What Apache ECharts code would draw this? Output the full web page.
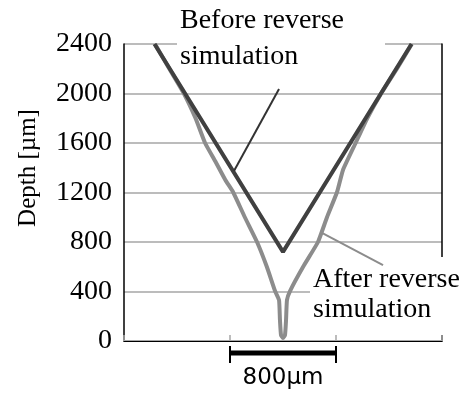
<!DOCTYPE html>
<html>
<head>
<meta charset="utf-8">
<script src="https://cdn.jsdelivr.net/npm/echarts@6/dist/echarts.min.js"></script>
<style>
  html, body { margin: 0; padding: 0; background: #fff; }
  #container { width: 473px; height: 394px; }
</style>
</head>
<body>
<div id="container"></div>
<script>
const container = document.getElementById('container');
const chartIns = echarts.init(container);

// axes
const xTicks = [0, 800, 1600, 2400];
const yTicks = [0, 400, 800, 1200, 1600, 2000, 2400];

// before reverse simulation (um)
const beforeX = [230, 1200, 2170];
const beforeY = [2400, 720, 2400];

// after reverse simulation (um)
const afterX = [234, 342, 450, 540, 612, 690, 765, 823, 912, 1004, 1078, 1140, 1170, 1177, 1185, 1200, 1215, 1223, 1230, 1253, 1352, 1464, 1532, 1608, 1653, 1748, 1836, 1943, 2060, 2172];
const afterY = [2400, 2200, 2004, 1800, 1600, 1450, 1301, 1204, 1000, 800, 600, 404, 331, 170, 48, 24, 48, 170, 331, 404, 600, 800, 1000, 1204, 1382, 1600, 1800, 2004, 2200, 2400];

// annotations (data coords)
const beforeCallout = [[1170, 2036], [830, 1374]];
const afterCallout = [[1494, 873], [1955, 614]];
const scaleBar = [800, 1600];
const scaleText = '800μm';

const serif = '"Liberation Serif", "Times New Roman", serif';

const toPairs = (xs, ys) => xs.map((x, i) => [x, ys[i]]);

const option = {
  animation: false,
  grid: { left: 124, right: 31, top: 44, bottom: 53 },
  xAxis: [
    {
      type: 'value', min: xTicks[0], max: xTicks[xTicks.length - 1], interval: 800,
      axisLine: { lineStyle: { color: '#a6a6a6', width: 2 } },
      axisTick: { inside: true, length: 6, lineStyle: { color: '#a6a6a6', width: 1.5 } },
      axisLabel: { show: false },
      splitLine: { show: false }
    },
    {
      type: 'value', position: 'top', min: 0, max: 2400,
      axisLine: { lineStyle: { color: '#000', width: 1.2 } },
      axisTick: { show: false }, axisLabel: { show: false }, splitLine: { show: false }
    }
  ],
  yAxis: [
    {
      type: 'value', min: yTicks[0], max: yTicks[yTicks.length - 1], interval: 400,
      axisLine: { show: true, onZero: false, lineStyle: { color: '#000', width: 1.5 } },
      axisTick: { show: false },
      axisLabel: { fontFamily: serif, fontSize: 28, color: '#000', margin: 12, formatter: (v) => String(v) },
      splitLine: { lineStyle: { color: '#a6a6a6', width: 1.5 } }
    },
    {
      type: 'value', position: 'right', min: 0, max: 2400,
      axisLine: { show: true, onZero: false, lineStyle: { color: '#000', width: 1.5 } },
      axisTick: { show: false }, axisLabel: { show: false }, splitLine: { show: false }
    }
  ],
  series: [
    {
      name: 'After reverse simulation',
      type: 'line',
      xAxisIndex: 0, yAxisIndex: 0,
      showSymbol: false, symbol: 'none',
      smooth: 0.15,
      lineStyle: { color: '#8c8c8c', width: 4 },
      z: 2,
      data: toPairs(afterX, afterY)
    },
    {
      name: 'Before reverse simulation',
      type: 'line',
      xAxisIndex: 0, yAxisIndex: 0,
      showSymbol: false, symbol: 'none',
      lineStyle: { color: '#404040', width: 4 },
      z: 3,
      data: toPairs(beforeX, beforeY)
    }
  ]
};

chartIns.setOption(option);

const px = (pt) => chartIns.convertToPixel({ seriesIndex: 0 }, pt);

const b0 = px(beforeCallout[0]), b1 = px(beforeCallout[1]);
const a0 = px(afterCallout[0]), a1 = px(afterCallout[1]);
const s0 = px([scaleBar[0], 0]), s1 = px([scaleBar[1], 0]);
const barY = s0[1] + 12;

chartIns.setOption({
  graphic: [
    // y axis name
    {
      type: 'text', x: 28, y: 168, rotation: Math.PI / 2, z: 20,
      style: { text: 'Depth [µm]', fontFamily: serif, fontSize: 25, fill: '#000', align: 'center', verticalAlign: 'middle' }
    },
    // before label
    { type: 'rect', z: 1, shape: { x: 177, y: 0, width: 208, height: 76 }, style: { fill: '#fff' } },
    { type: 'text', x: 180, y: 21, z: 11, style: { text: 'Before reverse', fontFamily: serif, fontSize: 28, fill: '#000', verticalAlign: 'middle' } },
    { type: 'text', x: 180, y: 57, z: 11, style: { text: 'simulation', fontFamily: serif, fontSize: 28, fill: '#000', verticalAlign: 'middle' } },
    { type: 'line', z: 12, shape: { x1: b0[0], y1: b0[1], x2: b1[0], y2: b1[1] }, style: { stroke: '#333', lineWidth: 2 } },
    // after label
    { type: 'rect', z: 1, shape: { x: 310, y: 257, width: 163, height: 78 }, style: { fill: '#fff' } },
    { type: 'text', x: 313, y: 280, z: 11, style: { text: 'After reverse', fontFamily: serif, fontSize: 28, fill: '#000', verticalAlign: 'middle' } },
    { type: 'text', x: 313, y: 310, z: 11, style: { text: 'simulation', fontFamily: serif, fontSize: 28, fill: '#000', verticalAlign: 'middle' } },
    { type: 'line', z: 12, shape: { x1: a0[0], y1: a0[1], x2: a1[0], y2: a1[1] }, style: { stroke: '#8c8c8c', lineWidth: 2 } },
    // scale bar
    { type: 'line', z: 12, shape: { x1: s0[0], y1: barY, x2: s1[0], y2: barY }, style: { stroke: '#000', lineWidth: 5 } },
    { type: 'line', z: 12, shape: { x1: s0[0], y1: barY - 7, x2: s0[0], y2: barY + 10 }, style: { stroke: '#000', lineWidth: 2 } },
    { type: 'line', z: 12, shape: { x1: s1[0], y1: barY - 7, x2: s1[0], y2: barY + 10 }, style: { stroke: '#000', lineWidth: 2 } },
    {
      type: 'text', x: (s0[0] + s1[0]) / 2, y: 378, z: 12,
      style: { text: scaleText, fontFamily: '"DejaVu Sans", sans-serif', fontSize: 23, fill: '#000', align: 'center', verticalAlign: 'middle' }
    }
  ]
});
</script>
</body>
</html>
